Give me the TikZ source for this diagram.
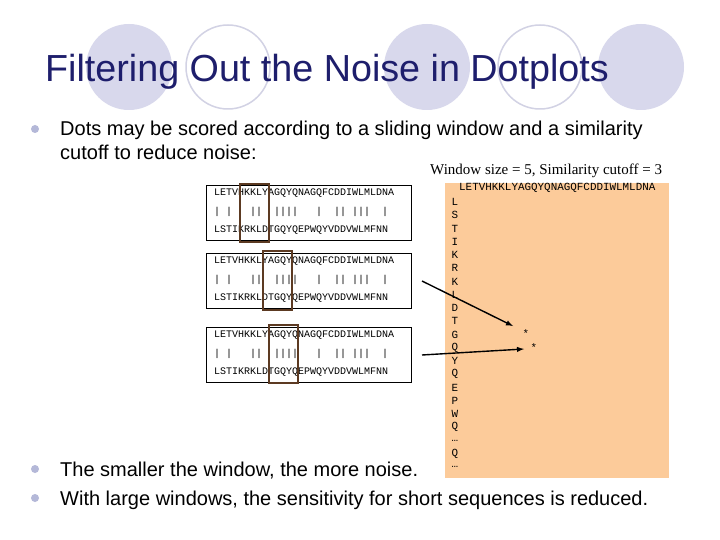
\documentclass[tikz,border=0pt]{standalone}
\usepackage{fontspec}
\setmainfont{Liberation Sans}
\newfontfamily\serifc{Liberation Serif}
\newfontfamily\monoc{Liberation Mono}
\begin{document}
\begin{tikzpicture}[x=1pt,y=-1pt,
  fillc/.style={fill=circfill,draw=none},
  ringc/.style={draw=circline,line width=1.5pt,fill=none},
  seqbox/.style={draw=black,line width=0.8pt},
  win/.style={draw=winbrown,line width=2pt},
  seq/.style={font=\monoc\fontsize{10}{10}\selectfont,anchor=west,inner sep=0pt},
  plt/.style={font=\monoc\fontsize{10.9}{11}\selectfont,inner sep=0pt},
  bul/.style={font=\fontsize{20}{24}\selectfont,anchor=base west,inner sep=0pt,text=black},
  dot/.style={circle,fill=bulc,minimum size=8pt,inner sep=0pt},
  arr/.style={-latex,line width=1.4pt}]
\definecolor{circfill}{HTML}{D8D8EC}
\definecolor{circline}{HTML}{D2D2E4}
\definecolor{winbrown}{HTML}{5C3A22}
\definecolor{titlec}{HTML}{1E1E6C}
\definecolor{bulc}{HTML}{B4B8D8}
\definecolor{peach}{HTML}{FCCB9A}
\useasboundingbox (0,0) rectangle (720,540);
\fill[white] (0,0) rectangle (720,540);
% title circles
\fill[circfill] (129,67) circle (43);
\draw[ringc] (228,67) circle (42);
\fill[circfill] (427,67) circle (43);
\draw[ringc] (540,67) circle (42);
\fill[circfill] (641,67) circle (43);
\node[anchor=base west,inner sep=0pt,text=titlec,font=\fontsize{37.7}{40}\selectfont] (title) at (45,82) {Filtering Out the Noise in Dotplots};
% bullets
\node[dot] (d1) at (35,129) {};
\node[bul] (b1) at (60,136) {Dots may be scored according to a sliding window and a similarity};
\node[bul] (b1b) at (60,160) {cutoff to reduce noise:};
\node[dot] (d2) at (35,469) {};
\node[bul] (b2) at (60,476) {The smaller the window, the more noise.};
\node[dot] (d3) at (35,498) {};
\node[bul] (b3) at (60,505) {With large windows, the sensitivity for short sequences is reduced.};
% window label
\node[anchor=base west,inner sep=0pt,font=\serifc\fontsize{15}{17}\selectfont] (wl) at (430,175) {Window size = 5, Similarity cutoff = 3};
% sequence boxes
\foreach \i/\y in {1/185,2/253,3/327}{
  \draw[seqbox] (206,\y) rectangle (411,\y+55);
  \node[seq] (sa\i) at (214,\y+8) {LETVHKKLYAGQYQNAGQFCDDIWLMLDNA};
  \node[seq] (sm\i) at (214,\y+27) {|~|~~~||~~||||~~~|~~||~|||~~|};
  \node[seq] (sb\i) at (214,\y+45) {LSTIKRKLDTGQYQEPWQYVDDVWLMFNN};
}
\draw[win] (240,184) rectangle (269,242);
\draw[win] (263,251) rectangle (292,310);
\draw[win] (269,325) rectangle (298,383);
% dotplot
\fill[peach] (445,183) rectangle (669,478);
\node[plt,anchor=west] (top) at (459,188) {LETVHKKLYAGQYQNAGQFCDDIWLMLDNA};
\foreach \c [count=\k from 0] in {L,S,T,I,K,R,K,L,D,T,G,Q,Y,Q,E,P,W,Q,\dots,Q,\dots}{
  \node[plt] (r\k) at (455,{202+\k*13.25}) {\c};
}
\node[plt] (s1) at (526,334) {*};
\node[plt] (s2) at (534,348) {*};
\coordinate (a1s) at (422,281);
\coordinate (a1e) at (513,326);
\coordinate (a2s) at (422,355);
\coordinate (a2e) at (524,349);
\draw[arr] (a1s) -- (a1e);
\draw[arr] (a2s) -- (a2e);
\end{tikzpicture}
\end{document}
